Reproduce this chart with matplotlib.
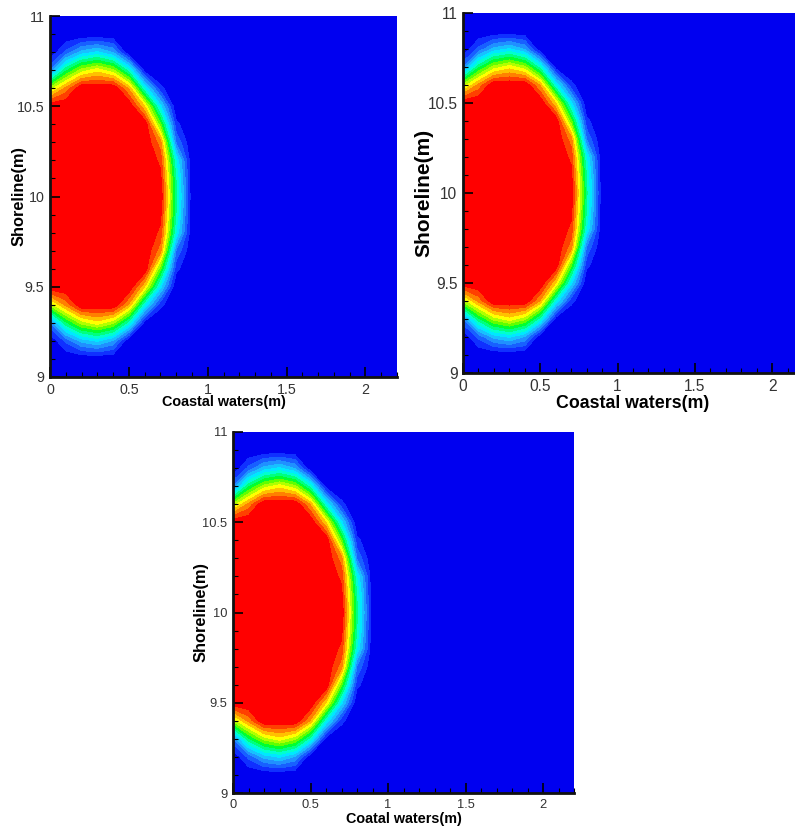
import matplotlib
matplotlib.use("Agg")
import matplotlib.pyplot as plt
import numpy as np
from matplotlib import font_manager
from matplotlib.colors import ListedColormap, BoundaryNorm
from matplotlib.ticker import MultipleLocator, FormatStrFormatter

# grid nodes (m)
x_nodes = [0.0, 0.1, 0.2, 0.3, 0.4, 0.5, 0.6, 0.7, 0.8, 0.9, 1.0, 2.2]
# distance from the shoreline centre (y = 10 m), upper half, mirrored below
d_nodes = [0.0, 0.1, 0.2, 0.3, 0.4, 0.5, 0.6, 0.7, 0.8, 0.9, 1.0]
y_center = 10.0

# concentration, one column per x node (rows = d_nodes)
c_x00 = [1, 1, 1, 1, 1, 1, 0.64, 0.18, 0, 0, 0]
c_x01 = [1, 1, 1, 1, 1, 1, 0.83, 0.48, 0.14, 0, 0]
c_x02 = [1, 1, 1, 1, 1, 1, 1, 0.65, 0.27, 0, 0]
c_x03 = [1, 1, 1, 1, 1, 1, 1, 0.72, 0.32, 0, 0]
c_x04 = [1, 1, 1, 1, 1, 1, 1, 0.64, 0.24, 0, 0]
c_x05 = [1, 1, 1, 1, 1, 1, 0.8, 0.4, 0, 0, 0]
c_x06 = [1, 1, 1, 1, 1, 0.75, 0.37, 0.03, 0, 0, 0]
c_x07 = [1, 0.96, 0.92, 0.84, 0.58, 0.33, 0.08, 0, 0, 0, 0]
c_x08 = [0.45, 0.43, 0.37, 0.18, 0.08, 0, 0, 0, 0, 0, 0]
c_x09 = [0.01, 0, 0, 0, 0, 0, 0, 0, 0, 0, 0]
c_x10 = [0, 0, 0, 0, 0, 0, 0, 0, 0, 0, 0]
c_x22 = [0, 0, 0, 0, 0, 0, 0, 0, 0, 0, 0]

x_ticks = [0, 0.5, 1, 1.5, 2]
y_ticks = [9, 9.5, 10, 10.5, 11]

ylabel_text = "Shoreline(m)"
xlabel_texts = ["Coastal waters(m)", "Coastal waters(m)", "Coatal waters(m)"]

# contour band colours, low to high
band_colors = ["#0000f0", "#1030ff", "#1860ff", "#2090ff", "#18c0ff",
               "#00e8ff", "#00ffd0", "#00ff80", "#00ff30", "#60ff00",
               "#b0ff00", "#ffff00", "#ffc000", "#ff8000", "#ff4000",
               "#ff0000"]

# build the full field
half = np.array([c_x00, c_x01, c_x02, c_x03, c_x04, c_x05, c_x06,
                 c_x07, c_x08, c_x09, c_x10, c_x22]).T
d = np.array(d_nodes)
y_full = np.concatenate([y_center - d[::-1], y_center + d[1:]])
z_full = np.vstack([half[::-1], half[1:]])
X, Y = np.meshgrid(np.array(x_nodes), y_full)

levels = np.linspace(0, 1, len(band_colors) + 1)
cmap = ListedColormap(band_colors)
norm = BoundaryNorm(levels, cmap.N)

# tick font: narrow if available
names = {f.name for f in font_manager.fontManager.ttflist}
if "Liberation Sans Narrow" in names:
    tick_family = "Liberation Sans Narrow"
    tick_scale = 1.0
else:
    tick_family = "Liberation Sans"
    tick_scale = 0.93

fig = plt.figure(figsize=(7.95, 8.34), dpi=100)

panels = [
    # rect, tick size, xlabel size, ylabel size, xlabel y, ylabel x
    ([50/795, 457/834, 347/795, 361/834], 11, 10.4, 11.8, -0.05, -0.069),
    ([463/795, 461/834, 340/795, 360/834], 12, 12.8, 15.0, -0.062, -0.088),
    ([233/795, 41/834, 341/795, 361/834], 10, 10.4, 11.8, -0.053, -0.071),
]

for i, (rect, tsize, xls, yls, xly, ylx) in enumerate(panels):
    ax = fig.add_axes(rect)
    ax.contourf(X, Y, z_full, levels=levels, cmap=cmap, norm=norm)
    ax.set_xlim(0, 2.2)
    ax.set_ylim(9, 11)
    ax.set_xticks(x_ticks)
    ax.set_yticks(y_ticks)
    ax.xaxis.set_major_formatter(FormatStrFormatter("%g"))
    ax.yaxis.set_major_formatter(FormatStrFormatter("%g"))
    ax.xaxis.set_minor_locator(MultipleLocator(0.1))
    ax.yaxis.set_minor_locator(MultipleLocator(0.1))
    ax.tick_params(which="major", direction="in", length=7, width=1.2,
                   color="black", labelsize=tsize * tick_scale,
                   labelcolor="#333333", pad=4, top=False, right=False)
    ax.tick_params(which="minor", direction="in", length=3.5, width=0.8,
                   color="black", top=False, right=False)
    for lab in ax.get_xticklabels() + ax.get_yticklabels():
        lab.set_family(tick_family)
    for s in ["top", "right"]:
        ax.spines[s].set_visible(False)
    for s in ["left", "bottom"]:
        ax.spines[s].set_linewidth(2)
        ax.spines[s].set_color("#111111")
    ax.set_xlabel(xlabel_texts[i], fontsize=xls, fontweight="bold",
                  family="Liberation Sans")
    ax.set_ylabel(ylabel_text, fontsize=yls, fontweight="bold",
                  family="Liberation Sans")
    ax.xaxis.set_label_coords(0.5, xly)
    ax.yaxis.set_label_coords(ylx, 0.5)

fig.savefig("out.png", dpi=100)
